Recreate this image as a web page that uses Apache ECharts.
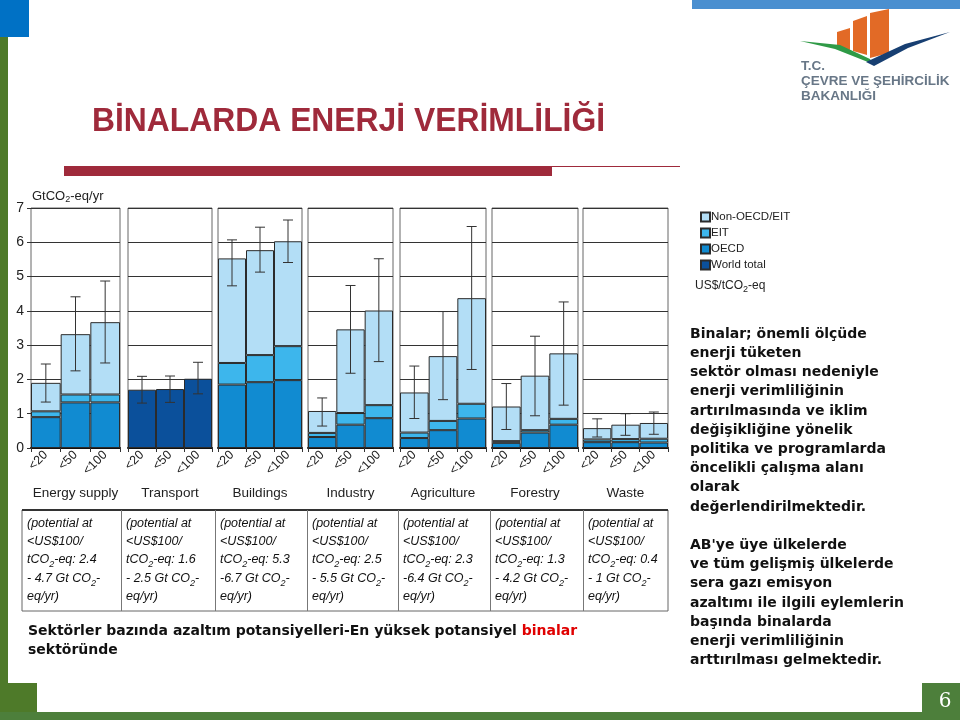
<!DOCTYPE html>
<html><head><meta charset="utf-8">
<script src="https://cdn.jsdelivr.net/npm/echarts@6/dist/echarts.min.js"></script>
<style>html,body{margin:0;padding:0;background:#fff}#c{width:960px;height:720px}</style>
</head><body><div id="c"></div><script>
// ---------- DATA ----------
const sectors = ['Energy supply','Transport','Buildings','Industry','Agriculture','Forestry','Waste'];
const priceLevels = ['<20','<50','<100'];
const yTicks = [0,1,2,3,4,5,6,7];
// stacked segment heights (GtCO2-eq/yr); null = not shown for that sector
const oecd    = [[0.90,1.33,1.33], null, [1.85,1.92,1.98], [0.32,0.68,0.87], [0.29,0.52,0.86], [0.15,0.45,0.68], [0.17,0.17,0.16]];
const eit     = [[0.17,0.23,0.23], null, [0.63,0.79,0.99], [0.12,0.34,0.38], [0.16,0.27,0.43], [0.05,0.07,0.17], [0.08,0.09,0.11]];
const nonOecd = [[0.83,1.76,2.11], null, [3.05,3.06,3.06], [0.64,2.44,2.76], [1.17,1.89,3.08], [1.01,1.59,1.91], [0.33,0.42,0.46]];
const worldTotal = [null, [1.70,1.72,2.02], null, null, null, null, null];
// error ranges [low, high]
const errLow  = [[1.34,2.25,2.48],[1.31,1.33,1.58],[4.73,5.13,5.41],[0.64,2.18,2.52],[0.86,1.41,2.29],[0.54,0.94,1.25],[0.32,0.37,0.40]];
const errHigh = [[2.45,4.41,4.87],[2.09,2.10,2.50],[6.07,6.44,6.65],[1.46,4.74,5.52],[2.39,3.98,6.46],[1.88,3.26,4.26],[0.85,1.00,1.05]];
// table: potential at <US$100/tCO2-eq
const potLow  = ['2.4','1.6','5.3','2.5','2.3','1.3','0.4'];
const potHigh = ['- 4.7','- 2.5','-6.7','- 5.5','-6.4','- 4.2','- 1'];

// ---------- LAYOUT ----------
const panelL = [31,128,218,308,400,492,583];
const panelR = [120,212,302,393,486,578,668];
const gTop = 208, gBottom = 448;
const C_OECD='#118bd1', C_EIT='#3db6ec', C_NON='#b3def6', C_WORLD='#0b509b';

const grids=[], xAxes=[], yAxes=[], series=[];
sectors.forEach((s,i)=>{
  grids.push({left:panelL[i], top:gTop, width:panelR[i]-panelL[i], height:gBottom-gTop,
    show:true, borderColor:'#666', borderWidth:1, containLabel:false});
  xAxes.push({type:'category', gridIndex:i, data:priceLevels, boundaryGap:true,
    axisLine:{show:true, lineStyle:{color:'#111', width:2}},
    axisTick:{show:true, length:4, lineStyle:{color:'#333'}},
    axisLabel:{rotate:45, fontSize:12.5, color:'#222', margin:5, fontFamily:'Liberation Sans'},
    name:s, nameLocation:'middle', nameGap:38,
    nameTextStyle:{fontSize:13.5, color:'#222', fontFamily:'Liberation Sans'}});
  yAxes.push({type:'value', gridIndex:i, min:0, max:7, interval:1,
    axisLine:{show:false},
    axisTick:{show:i===0, length:4, lineStyle:{color:'#333'}},
    axisLabel:{show:i===0, fontSize:14, color:'#222', margin:7, fontFamily:'Liberation Sans'},
    splitLine:{show:true, lineStyle:{color:'#333', width:1}}});
  const base = {type:'bar', xAxisIndex:i, yAxisIndex:i, stack:'s'+i, barCategoryGap:'0%'};
  if (worldTotal[i]) {
    series.push(Object.assign({}, base, {name:'World total', data:worldTotal[i], itemStyle:{color:C_WORLD, borderColor:'#2b2b2b', borderWidth:1}}));
  } else {
    series.push(Object.assign({}, base, {name:'OECD', data:oecd[i], itemStyle:{color:C_OECD, borderColor:'#2b2b2b', borderWidth:1}}));
    series.push(Object.assign({}, base, {name:'EIT', data:eit[i], itemStyle:{color:C_EIT, borderColor:'#2b2b2b', borderWidth:1}}));
    series.push(Object.assign({}, base, {name:'Non-OECD/EIT', data:nonOecd[i], itemStyle:{color:C_NON, borderColor:'#2b2b2b', borderWidth:1}}));
  }
  series.push({type:'custom', xAxisIndex:i, yAxisIndex:i, z:5,
    data: priceLevels.map((p,j)=>[j, errLow[i][j], errHigh[i][j]]),
    encode:{x:0, y:[1,2]},
    renderItem:function(params, api){
      const x = api.value(0);
      const lo = api.coord([x, api.value(1)]);
      const hi = api.coord([x, api.value(2)]);
      const hw = 5, st = {stroke:'#333', lineWidth:1};
      return {type:'group', children:[
        {type:'line', shape:{x1:hi[0],y1:hi[1],x2:lo[0],y2:lo[1]}, style:st},
        {type:'line', shape:{x1:hi[0]-hw,y1:hi[1],x2:hi[0]+hw,y2:hi[1]}, style:st},
        {type:'line', shape:{x1:lo[0]-hw,y1:lo[1],x2:lo[0]+hw,y2:lo[1]}, style:st}]};
    }});
});

// ---------- GRAPHICS ----------
const g = [];
// frame decorations
g.push({type:'rect', shape:{x:0,y:0,width:29,height:37}, style:{fill:'#0071c5'}});
g.push({type:'rect', shape:{x:0,y:37,width:8,height:683}, style:{fill:'#4e7a29'}});
g.push({type:'rect', shape:{x:0,y:683,width:37,height:37}, style:{fill:'#4e7a29'}});
g.push({type:'rect', shape:{x:0,y:712,width:960,height:8}, style:{fill:'#4d7f3b'}});
g.push({type:'rect', shape:{x:922,y:683,width:38,height:37}, style:{fill:'#4d7f3b'}});
g.push({type:'text', x:945, y:702, style:{text:'6', fill:'#fff', font:'20px "DejaVu Serif"', textAlign:'center', textVerticalAlign:'middle'}});
g.push({type:'rect', shape:{x:692,y:0,width:268,height:9}, style:{fill:'#4a8fd0'}});
// title
g.push({type:'text', x:92, y:122, scaleX:0.965, style:{text:'BİNALARDA ENERJİ VERİMLİLİĞİ', fill:'#9f2a3b', font:'bold 33px "Liberation Sans"', textVerticalAlign:'middle'}});
g.push({type:'rect', shape:{x:64,y:166,width:488,height:10}, style:{fill:'#9f2a3b'}});
g.push({type:'line', shape:{x1:552,y1:166.5,x2:680,y2:166.5}, style:{stroke:'#9f2a3b', lineWidth:1}});
// logo
g.push({type:'polygon', shape:{points:[[837,32],[850,28],[850,50],[837,47]]}, style:{fill:'#e26a26'}});
g.push({type:'polygon', shape:{points:[[853,21],[867,16],[867,55],[853,51]]}, style:{fill:'#e26a26'}});
g.push({type:'polygon', shape:{points:[[870,13],[889,9],[889,53],[870,58]]}, style:{fill:'#e26a26'}});
g.push({type:'polygon', shape:{points:[[800,41],[840,45],[870,59],[873,64],[835,49]]}, style:{fill:'#2f9a46'}});
g.push({type:'polygon', shape:{points:[[866,62],[905,44],[950,32],[908,48],[874,66]]}, style:{fill:'#173f72'}});
const logoFont = 'bold 13.5px "Liberation Sans"';
g.push({type:'text', x:801, y:66, style:{text:'T.C.', fill:'#687787', font:logoFont, textVerticalAlign:'middle'}});
g.push({type:'text', x:801, y:81, style:{text:'ÇEVRE VE ŞEHİRCİLİK', fill:'#687787', font:logoFont, textVerticalAlign:'middle'}});
g.push({type:'text', x:801, y:96, style:{text:'BAKANLIĞI', fill:'#687787', font:logoFont, textVerticalAlign:'middle'}});
// y-axis unit
g.push({type:'text', x:32, y:196, style:{text:'{a|GtCO}{s|2}{a|-eq/yr}', textVerticalAlign:'middle',
  rich:{a:{fontSize:13, fontFamily:'Liberation Sans', fill:'#222', lineHeight:16},
        s:{fontSize:9, fontFamily:'Liberation Sans', fill:'#222', lineHeight:10, verticalAlign:'bottom'}}}});
g.push({type:'text', x:695, y:286, style:{text:'{a|US$/tCO}{s|2}{a|-eq}', textVerticalAlign:'middle',
  rich:{a:{fontSize:12, fontFamily:'Liberation Sans', fill:'#222', lineHeight:16},
        s:{fontSize:9, fontFamily:'Liberation Sans', fill:'#222', lineHeight:10, verticalAlign:'bottom'}}}});
// table
const tL=22, tR=668, tT=510, tB=611;
g.push({type:'rect', shape:{x:tL,y:tT,width:tR-tL,height:tB-tT}, style:{fill:'none', stroke:'#666', lineWidth:1}});
g.push({type:'line', shape:{x1:tL,y1:tT,x2:tR,y2:tT}, style:{stroke:'#333', lineWidth:2}});
const colX = [121,215,307,398,490,583];
colX.forEach(x=>g.push({type:'line', shape:{x1:x+0.5,y1:tT,x2:x+0.5,y2:tB}, style:{stroke:'#777', lineWidth:1}}));
const colStart = [tL].concat(colX);
const cellRich = {a:{fontSize:12.5, fontStyle:'italic', fontFamily:'Liberation Sans', fill:'#111', lineHeight:18.4},
                  s:{fontSize:9, fontStyle:'italic', fontFamily:'Liberation Sans', fill:'#111', lineHeight:10, verticalAlign:'bottom'}};
sectors.forEach((s,i)=>{
  const txt = '{a|(potential at}\n{a|<US$100/}\n{a|tCO}{s|2}{a|-eq: '+potLow[i]+'}\n{a|'+potHigh[i]+' Gt CO}{s|2}{a|-}\n{a|eq/yr)}';
  g.push({type:'text', x:colStart[i]+5, y:514, style:{text:txt, rich:cellRich}});
});
// caption
g.push({type:'text', x:28, y:622, style:{text:'{a|Sektörler bazında azaltım potansiyelleri-En yüksek potansiyel }{r|binalar}\n{a|sektöründe}',
  rich:{a:{font:'bold 14px "DejaVu Sans"', fill:'#111', lineHeight:19.2}, r:{font:'bold 14px "DejaVu Sans"', fill:'#e00000', lineHeight:19.2}}}});
// right text
const rightLines = ['Binalar; önemli ölçüde','enerji tüketen','sektör olması nedeniyle','enerji verimliliğinin','artırılmasında ve iklim','değişikliğine yönelik','politika ve programlarda','öncelikli çalışma alanı','olarak','değerlendirilmektedir.','','AB\'ye üye ülkelerde','ve tüm gelişmiş ülkelerde','sera gazı emisyon','azaltımı ile ilgili eylemlerin','başında binalarda','enerji verimliliğinin','arttırılması gelmektedir.'];
g.push({type:'text', x:690, y:324.5, style:{text:rightLines.join('\n'), font:'bold 14px "DejaVu Sans"', fill:'#111', lineHeight:19.2}});

const chart = echarts.init(document.getElementById('c'), null, {renderer:'canvas'});
chart.setOption({
  animation:false,
  backgroundColor:'#fff',
  textStyle:{fontFamily:'Liberation Sans'},
  grid:grids, xAxis:xAxes, yAxis:yAxes, series:series,
  legend:{data:['Non-OECD/EIT','EIT','OECD','World total'], orient:'vertical', left:695, top:206,
    itemWidth:9, itemHeight:9, itemGap:4, icon:'rect', selectedMode:false,
    textStyle:{fontSize:11.5, color:'#222', fontFamily:'Liberation Sans', padding:[0,0,0,-4]}},
  graphic:g
});
</script></body></html>
